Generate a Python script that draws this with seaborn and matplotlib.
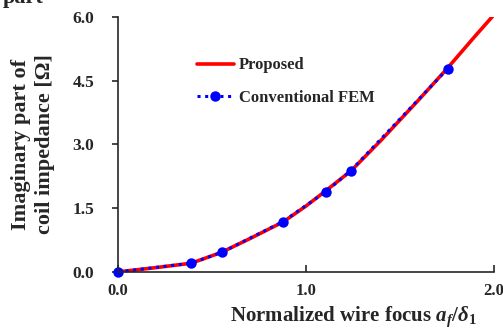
import numpy as np
import pandas as pd
import seaborn as sns
import matplotlib.pyplot as plt

# Proposed model curve
prop_x = [0.0, 0.2, 0.39, 0.55, 0.7, 0.88, 1.0, 1.1, 1.24, 1.4, 1.6, 1.75, 1.9, 2.0]
prop_y = [0.0, 0.10, 0.205, 0.46, 0.78, 1.18, 1.55, 1.89, 2.38, 3.10, 4.05, 4.78, 5.55, 6.05]

# Conventional FEM points
fem_x = [0.0, 0.39, 0.552, 0.876, 1.106, 1.238, 1.754]
fem_y = [0.0, 0.205, 0.46, 1.18, 1.89, 2.38, 4.78]

sns.set_style("ticks")
plt.rcParams['font.family'] = ['Liberation Serif', 'DejaVu Serif']
plt.rcParams['font.weight'] = 'bold'
plt.rcParams['mathtext.fontset'] = 'custom'
plt.rcParams['mathtext.it'] = 'Liberation Serif:italic:bold'
plt.rcParams['mathtext.rm'] = 'Liberation Serif:bold'
plt.rcParams['mathtext.bf'] = 'Liberation Serif:bold'

df_p = pd.DataFrame({'x': prop_x, 'y': prop_y})
df_f = pd.DataFrame({'x': fem_x, 'y': fem_y})

fig = plt.figure(figsize=(5.03, 3.32), dpi=100)
ax = fig.add_axes([0.2346, 0.181, 0.7474, 0.768])

sns.lineplot(data=df_p, x='x', y='y', ax=ax, color='#ff0000', linewidth=2.6,
             label='Proposed', sort=False, clip_on=True)
sns.lineplot(data=df_f, x='x', y='y', ax=ax, color='#0000ff', linewidth=2.2,
             linestyle=(0, (1, 1.5)), marker='o', markersize=7.5,
             markeredgewidth=0, label='Conventional FEM', sort=False, clip_on=False)

ax.set_xlim(0, 2.0)
ax.set_ylim(0, 6.0)
ax.set_xticks([0, 1.0, 2.0])
ax.set_xticklabels(['0.0', '1.0', '2.0'])
ax.set_yticks([0, 1.5, 3.0, 4.5, 6.0])
ax.set_yticklabels(['0.0', '1.5', '3.0', '4.5', '6.0'])
ax.tick_params(axis='x', direction='in', length=5, width=1.2, labelsize=12, pad=8)
ax.tick_params(axis='y', direction='out', length=4, width=1.2, labelsize=12.5, pad=13)
for lab in ax.get_xticklabels() + ax.get_yticklabels():
    lab.set_fontweight('bold')
for s in ['top', 'right']:
    ax.spines[s].set_visible(False)
for s in ['left', 'bottom']:
    ax.spines[s].set_linewidth(1.2)

ax.set_xlabel(r'Normalized wire focus $a_f/\delta_1$', fontsize=15, fontweight='bold',
              labelpad=4, x=0.625)
ax.set_ylabel('Imaginary part of\ncoil impedance [\u03a9]', fontsize=16,
              fontweight='bold', labelpad=13, linespacing=1.25)

leg = ax.legend(loc='upper left', bbox_to_anchor=(0.17, 0.90), frameon=False,
                fontsize=12, handlelength=2.2, labelspacing=1.0, handletextpad=0.3)
for t in leg.get_texts():
    t.set_fontweight('bold')

fig.text(0.005, 0.991, 'part', fontsize=16, fontweight='bold', va='baseline')

fig.savefig('out.png', dpi=100)
